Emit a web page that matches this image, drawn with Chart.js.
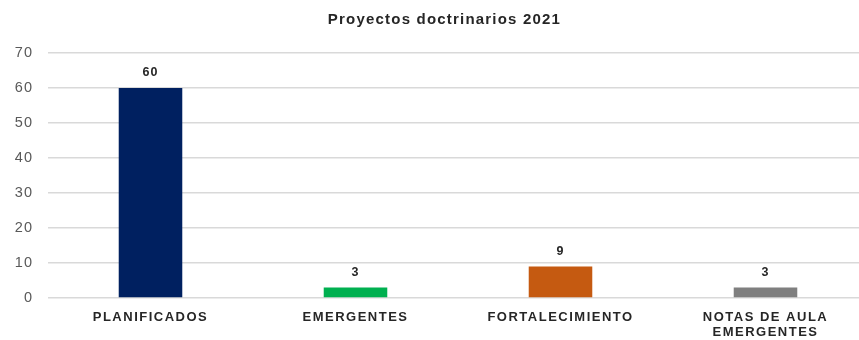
<!DOCTYPE html>
<html>
<head>
<meta charset="utf-8">
<script src="https://cdn.jsdelivr.net/npm/chart.js@4.4.1/dist/chart.umd.min.js"></script>
<style>
  html, body { margin: 0; padding: 0; background: #fff; overflow: hidden; }
  #wrap { width: 889px; height: 340px; }
</style>
</head>
<body>
<div id="wrap"><canvas id="c" width="889" height="340"></canvas></div>
<script>
// Proyectos doctrinarios 2021
const categories = ["PLANIFICADOS", "EMERGENTES", "FORTALECIMIENTO", ["NOTAS DE AULA", "EMERGENTES"]];
const values = [60, 3, 9, 3];
const barColors = ["#002060", "#00B050", "#C55A11", "#7F7F7F"];
const yTicks = [0, 10, 20, 30, 40, 50, 60, 70];

const FONT = "'Liberation Sans', Arial, sans-serif";

const canvas = document.getElementById("c");
const ctx2d = canvas.getContext("2d");

// Slightly spaced-out lettering, chosen by the font size in use
const spacingBySize = { "15px": "1.2px", "13px": "1.5px", "14.5px": "1px", "12.5px": "1px" };
function spacingFor(font) {
  const m = /([\d.]+px)/.exec(font || "");
  return (m && spacingBySize[m[1]]) || "0px";
}
const rawFill = ctx2d.fillText.bind(ctx2d);
const rawMeasure = ctx2d.measureText.bind(ctx2d);
ctx2d.fillText = function (t, x, y, w) {
  this.letterSpacing = spacingFor(this.font);
  return w === undefined ? rawFill(t, x, y) : rawFill(t, x, y, w);
};
ctx2d.measureText = function (t) {
  this.letterSpacing = spacingFor(this.font);
  return rawMeasure(t);
};

// Writes each bar's value just above it
const valueLabels = {
  id: "valueLabels",
  afterDatasetsDraw(chart) {
    const ctx = chart.ctx;
    const meta = chart.getDatasetMeta(0);
    ctx.save();
    ctx.font = "bold 12.5px " + FONT;
    ctx.fillStyle = "#262626";
    ctx.textAlign = "center";
    ctx.textBaseline = "middle";
    meta.data.forEach((bar, i) => {
      ctx.fillText(String(values[i]), bar.x, bar.y - 15);
    });
    ctx.restore();
  }
};

new Chart(canvas, {
  type: "bar",
  data: {
    labels: categories,
    datasets: [{
      data: values,
      backgroundColor: barColors,
      borderWidth: 0,
      barPercentage: 0.31,
      categoryPercentage: 1
    }]
  },
  options: {
    responsive: false,
    animation: false,
    layout: { padding: 0 },
    plugins: {
      legend: { display: false },
      tooltip: { enabled: false },
      title: {
        display: true,
        text: "Proyectos doctrinarios 2021",
        color: "#262626",
        font: { family: FONT, size: 15, weight: "bold", lineHeight: 1.2 },
        padding: { top: 11, bottom: 24 }
      }
    },
    scales: {
      x: {
        grid: { display: false },
        border: { display: false },
        ticks: {
          color: "#262626",
          font: { family: FONT, size: 13, weight: "bold", lineHeight: 1.15 },
          padding: 4,
          maxRotation: 0,
          autoSkip: false
        },
        afterFit(scale) { scale.height = 42; }
      },
      y: {
        min: 0,
        max: 70,
        afterBuildTicks(scale) { scale.ticks = yTicks.map(v => ({ value: v })); },
        grid: { color: "#D9D9D9", lineWidth: 1.5, drawTicks: false },
        border: { display: false },
        ticks: {
          color: "#595959",
          font: { family: FONT, size: 14.5 },
          padding: 15
        },
        afterFit(scale) { scale.width = 48; }
      },
      // empty right-hand margin so the plot stops short of the canvas edge
      yRight: {
        position: "right",
        display: true,
        min: 0,
        max: 70,
        grid: { display: false },
        border: { display: false },
        ticks: { display: false },
        afterFit(scale) { scale.width = 21; }
      }
    }
  },
  plugins: [valueLabels]
});
</script>
</body>
</html>
